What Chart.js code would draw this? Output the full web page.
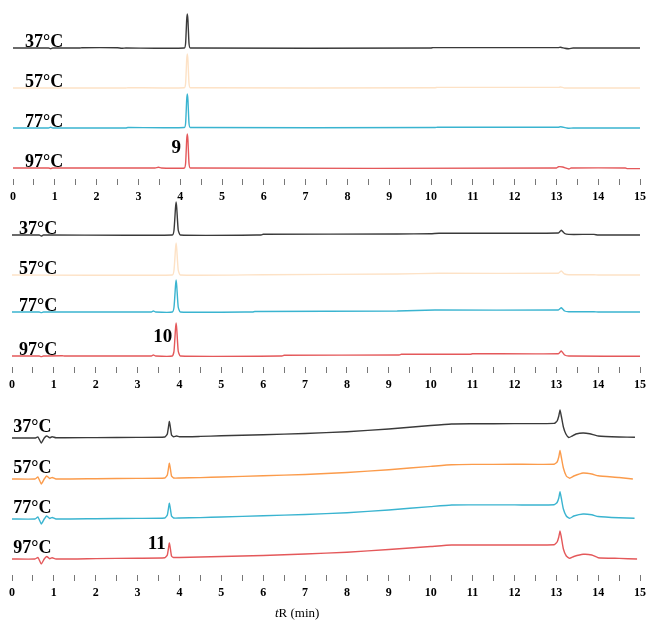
<!DOCTYPE html>
<html>
<head>
<meta charset="utf-8">
<script src="https://cdn.jsdelivr.net/npm/chart.js@4.4.1/dist/chart.umd.min.js"></script>
<style>
  html, body { margin: 0; padding: 0; background: #fff; }
  #wrap { position: relative; width: 651px; height: 620px; overflow: hidden; }
  canvas { position: absolute; left: 0; }
</style>
</head>
<body>
<div id="wrap">
  <canvas id="c9" width="651" height="205" style="top:0"></canvas>
  <canvas id="c10" width="651" height="198" style="top:195px"></canvas>
  <canvas id="c11" width="651" height="225" style="top:395px"></canvas>
</div>
<script>
// labels
const temps = ["37°C", "57°C", "77°C", "97°C"];
const compounds = ["9", "10", "11"];
const xTicks = [0, 15];

// chromatograms, [time (min), signal] - compound 9
const p9_37 = [[0,0],[0.85,0],[0.9,-0.8],[0.95,0],[1.6,0],[1.65,0.3],[2.5,0.3],[2.6,-0.3],[2.7,0],[4.1,0],[4.13,5],[4.155,28],[4.17,34],[4.185,28],[4.21,5],[4.24,0],[10,0],[10.05,0.4],[13.05,0.4],[13.1,0.8],[13.2,-0.3],[13.3,-0.8],[13.4,0],[15,0]];
const p9_57 = [[0,0],[2.7,0],[2.75,0.3],[4.1,0.3],[4.13,5],[4.155,28],[4.17,34],[4.185,28],[4.21,5],[4.24,0.3],[10.1,0.3],[10.15,0.6],[13.05,0.6],[13.1,1],[13.2,0],[15,0]];
const p9_77 = [[0,0],[0.85,0],[0.9,0.8],[0.95,0],[2.7,0],[2.75,0.5],[4.1,0.5],[4.13,5],[4.155,28],[4.17,34],[4.185,28],[4.21,5],[4.24,0.5],[10.1,0.5],[10.15,0.8],[13.05,0.8],[13.1,1.2],[13.25,0],[13.3,-0.3],[13.4,0],[15,0]];
const p9_97 = [[0,0],[0.85,0],[0.9,-0.5],[0.95,0],[3.4,0],[3.48,0.8],[3.55,0],[4.1,0],[4.13,5],[4.155,28],[4.17,34],[4.185,28],[4.21,5],[4.24,0],[13,0],[13.05,1.3],[13.15,1],[13.3,-1],[13.35,0],[14.65,0],[14.7,-0.6],[15,-0.6]];

// compound 10
const p10_37 = [[0,0],[0.65,0],[0.7,-1],[0.75,0],[3.83,0],[3.87,5],[3.905,27],[3.92,33],[3.935,27],[3.97,5],[4.02,0],[5.95,0],[6,0.7],[9.2,1],[10,1.3],[10.2,1.8],[13.05,2],[13.12,4.8],[13.2,1.5],[13.3,0.6],[13.9,0.6],[14,0],[15,0]];
const p10_57 = [[0,0],[3.83,0],[3.87,5],[3.905,26],[3.92,32],[3.935,26],[3.97,5],[4.02,0],[6,0.3],[9.2,1],[10.2,1.7],[13.05,1.8],[13.12,4],[13.2,1],[13.3,0.3],[13.9,0.3],[14,0],[15,0]];
const p10_77 = [[0,0],[0.65,0],[0.7,-0.6],[0.75,0],[3.33,0],[3.38,1],[3.43,0],[3.83,0],[3.87,5],[3.905,26],[3.92,32],[3.935,26],[3.97,5],[4.02,0],[5.75,0],[5.8,0.5],[9.2,1],[10.1,2],[13.05,2],[13.12,4.3],[13.2,1],[13.3,0.3],[13.9,0.3],[14,0],[15,0]];
const p10_97 = [[0,0],[0.65,0],[0.7,-0.6],[0.75,0],[1.2,0.3],[1.25,0],[3.33,0],[3.38,1],[3.43,0],[3.83,0],[3.87,5],[3.905,27],[3.92,33],[3.935,27],[3.97,5],[4.02,0],[6.45,0],[6.5,0.8],[9.25,1],[9.3,1.7],[10.95,1.7],[11,2.3],[13.05,2.3],[13.12,5],[13.2,1],[13.3,0],[15,-0.3]];

// compound 11
const p11_37 = [[0,0],[0.55,0],[0.62,1],[0.7,-5],[0.77,0],[0.83,2],[0.9,0.3],[0.96,1.2],[1.05,0.2],[2,0.4],[3,0.6],[3.65,1],[3.71,4],[3.76,16.5],[3.81,3],[3.86,1.2],[3.93,2],[4,1.2],[4.5,1.6],[5,2.2],[6,3.3],[7,4.5],[8,6.3],[9,9],[10,12.5],[10.5,14],[11,14.2],[12,14.4],[12.95,14.6],[13.02,17],[13.06,22],[13.09,28],[13.12,22],[13.17,11],[13.23,4],[13.3,0.5],[13.38,2],[13.47,4],[13.64,5],[13.8,4.2],[14,2],[14.5,1],[14.88,0.8]];
const p11_57 = [[0,0],[0.55,0],[0.62,2],[0.7,-5],[0.77,0],[0.83,3],[0.9,0.5],[0.96,1.5],[1.05,0],[2,0.3],[3,0.6],[3.65,1],[3.71,4],[3.76,15.7],[3.81,3],[3.86,1],[4,1],[4.5,1.4],[5,2],[6,3.2],[7,4.5],[8,6.5],[9,9.3],[10,12.6],[10.5,14.3],[11,14.6],[12,14.7],[12.95,14.8],[13.02,17],[13.06,22],[13.09,28.5],[13.12,22],[13.17,11],[13.24,3],[13.32,0.8],[13.42,3],[13.64,6],[13.85,5],[14,3.2],[14.5,1.5],[14.83,0]];
const p11_77 = [[0,0],[0.55,0],[0.62,2],[0.7,-5],[0.77,0],[0.83,3],[0.9,0.5],[0.96,1.5],[1.05,0],[2,0.3],[3,0.6],[3.65,1],[3.71,4],[3.76,15.7],[3.81,3],[3.86,1],[4,1],[4.5,1.4],[5,2],[6,3.2],[7,4.5],[8,6.3],[9,9],[10,12.4],[10.5,14],[11,14.1],[12,14.1],[12.95,14.2],[13.02,16.5],[13.06,21],[13.09,27.3],[13.12,21],[13.17,10],[13.24,3],[13.32,0.7],[13.42,3],[13.64,5],[13.85,4.2],[14,2.5],[14.5,1.2],[14.87,0.7]];
const p11_97 = [[0,0],[0.55,0],[0.62,1.5],[0.7,-5],[0.77,0],[0.83,2.5],[0.9,0.3],[0.96,1.2],[1.05,0],[2,0.4],[3,0.8],[3.65,1.2],[3.71,4],[3.76,16],[3.81,3],[3.86,1.5],[4,1.5],[4.5,2],[5,2.5],[6,3.5],[7,5],[8,6.8],[9,9.5],[10,12.5],[10.5,14],[11,14],[12,14],[12.95,14.2],[13.02,17],[13.06,22],[13.09,28],[13.12,22],[13.17,10],[13.24,3],[13.32,0.7],[13.42,2.5],[13.64,4.7],[13.85,4],[14,1.3],[14.5,0.6],[14.93,0]];

const panels = [
  {
    id: "c9", traces: [p9_37, p9_57, p9_77, p9_97],
    colors: ["#3a3a3a", "#fde2c6", "#3ab4d0", "#e4585a"],
    offsets: [131, 91, 51, 11], yMax: 179,
    padding: { left: 13, right: 8, top: 0, bottom: 0 },
    tempX: 0.29, tempDy: 1, compound: compounds[0], compoundAt: [4.02, 26]
  },
  {
    id: "c10", traces: [p10_37, p10_57, p10_77, p10_97],
    colors: ["#3a3a3a", "#fde2c6", "#3ab4d0", "#e4585a"],
    offsets: [132, 92, 55, 11], yMax: 172,
    padding: { left: 12, right: 8, top: 0, bottom: 0 },
    tempX: 0.17, tempDy: 1, compound: compounds[1], compoundAt: [3.83, 25]
  },
  {
    id: "c11", traces: [p11_37, p11_57, p11_77, p11_97],
    colors: ["#3a3a3a", "#fb9b4b", "#3ab4d0", "#e4585a"],
    offsets: [137, 96, 56, 16], yMax: 180,
    padding: { left: 12, right: 8, top: 0, bottom: 19 },
    tempX: 0.03, tempDy: 6, compound: compounds[2], compoundAt: [3.67, 26],
    axisTitle: { x: 6.81, y: -42 }
  }
];

const serif = "'Liberation Serif', 'Times New Roman', serif";

// Draws the temperature labels, compound numbers and axis title
const labelPlugin = {
  id: "panelLabels",
  afterDatasetsDraw(chart, args, opts) {
    const { ctx, scales: { x, y } } = chart;
    ctx.save();
    ctx.fillStyle = "#000";
    ctx.textBaseline = "alphabetic";
    ctx.font = "bold 18px " + serif;
    ctx.textAlign = "left";
    temps.forEach((t, i) => {
      ctx.fillText(t, x.getPixelForValue(opts.tempX), y.getPixelForValue(opts.offsets[i] + opts.tempDy));
    });
    ctx.font = "bold 19px " + serif;
    ctx.textAlign = "right";
    ctx.fillText(opts.compound, x.getPixelForValue(opts.compoundAt[0]), y.getPixelForValue(opts.compoundAt[1]));
    if (opts.axisTitle) {
      ctx.textAlign = "left";
      ctx.font = "italic 13px " + serif;
      const tw = ctx.measureText("t").width;
      ctx.font = "13px " + serif;
      const rw = ctx.measureText("R (min)").width;
      const cx = x.getPixelForValue(opts.axisTitle.x);
      const py = y.getPixelForValue(opts.axisTitle.y);
      const sx = cx - (tw + rw) / 2;
      ctx.font = "italic 13px " + serif;
      ctx.fillText("t", sx, py);
      ctx.font = "13px " + serif;
      ctx.fillText("R (min)", sx + tw, py);
    }
    ctx.restore();
  }
};

panels.forEach((p) => {
  const ctx = document.getElementById(p.id).getContext("2d");
  new Chart(ctx, {
    type: "line",
    data: {
      datasets: p.traces.map((tr, i) => ({
        label: temps[i],
        data: tr.map(([t, v]) => ({ x: t, y: v + p.offsets[i] })),
        borderColor: p.colors[i],
        borderWidth: 1.4,
        pointRadius: 0,
        fill: false,
        tension: 0.15
      }))
    },
    options: {
      responsive: false,
      animation: false,
      layout: { padding: p.padding },
      plugins: {
        legend: { display: false },
        tooltip: { enabled: false },
        panelLabels: {
          offsets: p.offsets, tempX: p.tempX, tempDy: p.tempDy,
          compound: p.compound, compoundAt: p.compoundAt, axisTitle: p.axisTitle
        }
      },
      scales: {
        x: {
          type: "linear",
          min: xTicks[0],
          max: xTicks[1],
          border: { display: false },
          grid: { drawOnChartArea: false, drawTicks: true, tickLength: 6, color: "#777" },
          ticks: {
            stepSize: 0.5,
            autoSkip: false,
            maxRotation: 0,
            padding: 5,
            color: "#000",
            font: { family: serif, size: 12, weight: "bold" },
            callback: (v) => (v % 1 === 0 ? String(v) : "")
          },
          afterFit: (scale) => { scale.height = 26; }
        },
        y: { display: false, min: 0, max: p.yMax }
      }
    },
    plugins: [labelPlugin]
  });
});
</script>
</body>
</html>
